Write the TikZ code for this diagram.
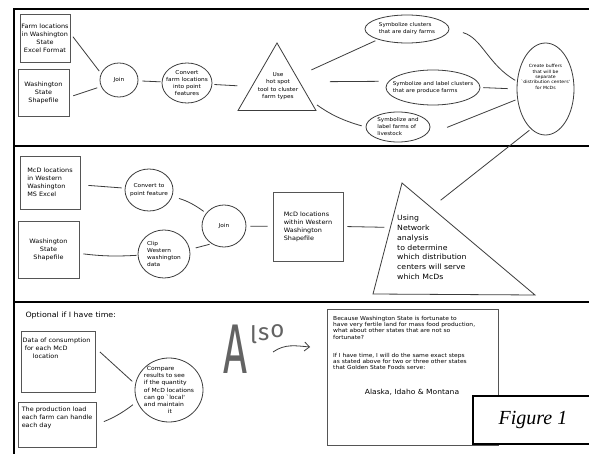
\documentclass[tikz,border=0pt]{standalone}
\usepackage{fontspec}
\usepackage{xcolor}
\usepackage{tikz}
\usetikzlibrary{arrows.meta,positioning,shapes.geometric,calc}
\newfontfamily\sketchfont{DejaVu Sans}[FakeStretch=1.08]
\newfontfamily\alsofont{Fira Sans}
\newfontfamily\figfont{Liberation Serif}
\definecolor{sketchink}{HTML}{3C3C3C}
\definecolor{sketchedge}{HTML}{555555}

\begin{document}
\begin{tikzpicture}[
  x=1pt,y=-1pt,
  font=\sketchfont\fontsize{6}{8}\selectfont,
  box/.style={draw=sketchedge,line width=0.9pt,align=center,inner sep=1pt},
  bubble/.style={ellipse,draw=sketchink,line width=0.8pt,align=center,
    inner sep=-20pt,font=\sketchfont\fontsize{5.4}{7.3}\selectfont},
  tri/.style={draw=sketchink,line width=0.8pt},
  link/.style={draw=sketchink,line width=0.8pt},
  frame/.style={draw=black,line width=1.8pt},
  note/.style={inner sep=0pt,align=left}
]
  \useasboundingbox (0,0) rectangle (589,454);
  \fill[white] (0,0) rectangle (589,454);

  % frame and the three bands
  \draw[frame] (14,460) -- (14,9.2) -- (595,9.2);
  \draw[frame] (14,146) -- (595,146);
  \draw[frame] (14,302) -- (595,302);

  % Band 1: farm data
  \node[box,minimum width=50pt,minimum height=48pt] (farmxl) at (45,38)
    {Farm locations\\in Washington\\State\\Excel Format};
  \node[box,minimum width=51pt,minimum height=47pt] (washshp) at (43.5,92.5)
    {Washington\\State\\Shapefile};
  \node[bubble,minimum width=38pt,minimum height=34pt] (join) at (119,80) {Join};
  \node[bubble,minimum width=50pt,minimum height=40pt] (convert) at (187,83)
    {Convert\\farm locations\\into point\\features};
  \node[tri,regular polygon,regular polygon sides=3,minimum size=90pt,
    inner sep=0pt] (hotspot) at (277,88) {};
  \node[font=\sketchfont\fontsize{5.4}{7.6}\selectfont,align=center]
    (hotspottext) at (278,86) {Use\\hot spot\\tool to cluster\\farm types};
  \node[bubble,minimum width=84pt,minimum height=28pt,align=left,
    font=\sketchfont\fontsize{5.2}{7}\selectfont] (dairy) at (407,29)
    {Symbolize clusters\\that are dairy farms};
  \node[bubble,minimum width=94pt,minimum height=35pt,align=left,
    font=\sketchfont\fontsize{5.2}{7}\selectfont] (produce) at (433,87.5)
    {Symbolize and label clusters\\that are produce farms};
  \node[bubble,minimum width=64pt,minimum height=30pt,align=left,
    font=\sketchfont\fontsize{5.2}{7}\selectfont] (livestock) at (398,127)
    {Symbolize and\\label farms of\\livestock};
  \node[bubble,minimum width=57pt,minimum height=92pt] (buffers) at (545.5,89) {};
  \node[font=\sketchfont\fontsize{4.3}{5.3}\selectfont,align=center]
    (bufferstext) at (545.5,77)
    {Create buffers\\that will be\\separate\\`distribution centers'\\for McDs};

  \draw[link,shorten <=4pt,shorten >=3pt] (farmxl.10) -- (join.160);
  \draw[link,shorten <=4pt,shorten >=4pt] (washshp.-10) -- (join.200);
  \draw[link,shorten <=4pt,shorten >=1pt] (join) -- (convert);
  \draw[link,shorten <=2pt,shorten >=14pt] (convert) -- (hotspot);
  \draw[link,shorten <=16pt,shorten >=3pt] (hotspot.30) -- (dairy.200);
  \draw[link,shorten <=30pt,shorten >=10pt] (hotspot.15) -- (produce.172);
  \draw[link,shorten <=8pt,shorten >=4pt] (hotspot.-20) to[bend right=10]
    (livestock.west);
  \draw[link,shorten <=14pt,shorten >=2pt] (dairy.east) to[out=-15,in=150]
    (buffers.165);
  \draw[link,shorten <=3pt,shorten >=9pt] (produce.east) -- (buffers.west);
  \draw[link,shorten <=28pt,shorten >=2pt] (livestock.-25) -- (buffers.200);

  % Band 2: McD locations
  \node[box,minimum width=60pt,minimum height=53pt,align=left] (mcdxl)
    at (50,182.5) {McD locations\\in Western\\Washington\\MS Excel};
  \node[box,minimum width=61pt,minimum height=57pt] (washshp2) at (48.5,249.5)
    {Washington\\State\\Shapefile};
  \node[bubble,minimum width=48pt,minimum height=42pt] (convert2) at (149,190)
    {Convert to\\point feature};
  \node[bubble,minimum width=52pt,minimum height=48pt,align=left] (clip)
    at (164,254) {Clip\\Western\\washington\\data};
  \node[bubble,minimum width=44pt,minimum height=42pt] (join2) at (224,226) {Join};
  \node[box,minimum width=70pt,minimum height=69pt,align=left] (mcdshp)
    at (308,226.5) {McD locations\\within Western\\Washington\\Shapefile};
  \coordinate (netA) at (402,183);
  \coordinate (netB) at (373,294);
  \coordinate (netC) at (535,295);
  \draw[tri] (netA) -- (netB) -- (netC) -- cycle;
  \node[note,anchor=west,font=\sketchfont\fontsize{7.2}{9.8}\selectfont]
    (network) at (397,247.5)
    {Using\\Network\\analysis\\to determine\\which distribution\\centers will serve\\which McDs};
  \coordinate (netleft) at ($(netA)!0.4!(netB)$);
  \coordinate (netedge) at ($(netA)!0.22!(netC)$);

  \draw[link,shorten <=8pt,shorten >=3pt] (mcdxl) -- (convert2);
  \draw[link,shorten <=4pt,shorten >=1pt] (washshp2) to[bend right=5] (clip);
  \draw[link,shorten <=7pt,shorten >=3pt] (convert2) to[bend left=10] (join2);
  \draw[link,shorten <=6pt,shorten >=2pt] (clip.10) -- (join2.235);
  \draw[link,shorten <=4pt,shorten >=5pt] (join2) -- (mcdshp);
  \draw[link,shorten <=4pt,shorten >=6pt] (mcdshp.east) -- (netleft);
  \draw[link,shorten <=2pt,shorten >=12pt] (buffers.250) -- (netedge);

  % Band 3: optional part
  \node[anchor=west,font=\sketchfont\fontsize{7.3}{9}\selectfont] (optional)
    at (22,315) {Optional if I have time:};
  \node[box,minimum width=74pt,minimum height=61pt] (consume) at (58,361.5) {};
  \node[note,anchor=north west] (consumetext) at ([shift={(2pt,-7pt)}]consume.north west)
    {Data of consumption\\\hspace*{2pt}for each McD\\\hspace*{10pt}location};
  \node[box,minimum width=78pt,minimum height=45pt] (load) at (57,424.5) {};
  \node[note,anchor=north west] (loadtext) at ([shift={(4pt,-5pt)}]load.north west)
    {The production load\\each farm can handle\\each day};
  \node[bubble,minimum width=68pt,minimum height=64pt,align=left,
    font=\sketchfont\fontsize{5.6}{7.2}\selectfont] (compare) at (169,390)
    {\hspace*{3pt}Compare\\results to see\\if the quantity\\of McD locations\\can go `local'\\and maintain\\\hspace*{24pt}it};
  \draw[link,shorten <=6pt,shorten >=4pt] (consume.20) -- (compare.170);
  \draw[link,shorten <=8pt,shorten >=5pt] (load.east) to[bend right=8] (compare.200);

  \node[font=\alsofont,text=sketchink!80,inner sep=0pt,anchor=south west]
    (also) at (223,374)
    {\fontsize{44}{44}\selectfont\scalebox{0.95}[1.6]{A}\hspace{3pt}%
     \fontsize{24}{24}\selectfont\raisebox{30pt}{l}\hspace{1pt}%
     \raisebox{33pt}{s}\hspace{1pt}\raisebox{36pt}{o}};
  \coordinate (alsotail) at (273,352);
  \coordinate (alsotip) at (310,347);
  \draw[link,-{Straight Barb[length=5pt,width=9pt]}] (alsotail)
    to[out=35,in=175] (alsotip);

  \node[box,minimum width=171pt,minimum height=136pt,anchor=north west]
    (others) at (327,309) {};
  \node[note,anchor=north west,font=\sketchfont\fontsize{5.5}{6.3}\selectfont]
    (otherstext) at ([shift={(6pt,-7pt)}]others.north west)
    {Because Washington State is fortunate to\\have very fertile land for mass food production,\\what about other states that are not so\\fortunate?\\[11.7pt]If I have time, I will do the same exact steps\\as stated above for two or three other states\\that Golden State Foods serve:};
  \node[font=\sketchfont\fontsize{7}{8}\selectfont] (states) at (412,392)
    {Alaska, Idaho \& Montana};

  \node[draw=black,line width=2pt,fill=white,minimum width=120pt,
    minimum height=48pt,anchor=north west,
    font=\figfont\itshape\fontsize{20}{20}\selectfont] (figlabel) at (472,395)
    {Figure 1\hspace{6pt}};
\end{tikzpicture}
\end{document}
